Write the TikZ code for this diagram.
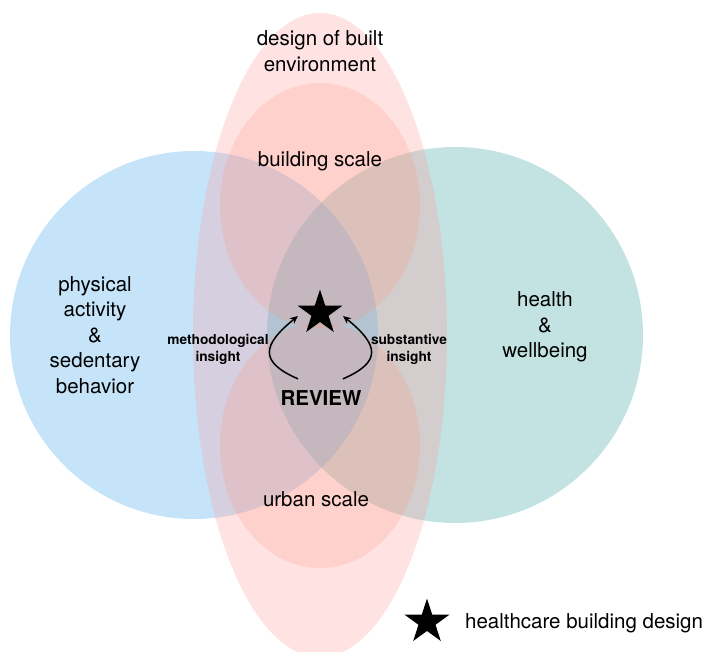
\documentclass[tikz,border=0pt]{standalone}
\usepackage{fontspec}
\setmainfont{TeX Gyre Heros}
\usepackage{tikz}
\usetikzlibrary{shapes.geometric}
\usetikzlibrary{arrows.meta}
\definecolor{activityblue}{RGB}{197,228,250}
\definecolor{healthteal}{RGB}{195,227,226}
\definecolor{lensblue}{RGB}{152,212,231}
\definecolor{builtpink}{RGB}{255,154,154}
\definecolor{scalepink}{RGB}{255,145,123}
\tikzstyle{venntext}=[font=\fontsize{20.5}{25.5}\selectfont, align=center, inner sep=2pt]
\tikzstyle{insighttext}=[font=\fontsize{13.7}{16.5}\selectfont\bfseries, align=center, inner sep=2pt]
\tikzstyle{reviewtext}=[font=\fontsize{20.5}{25.5}\selectfont\bfseries, inner sep=2pt]
\tikzstyle{bigstar}=[star, star points=5, star point ratio=2.618, minimum size=47pt, inner sep=0pt, fill=black]
\tikzstyle{insight}=[draw, line width=1.5pt, -{Stealth[length=8pt,width=7pt]}]
\tikzstyle{builtfill}=[fill=builtpink, fill opacity=0.28]
\tikzstyle{scalefill}=[fill=scalepink, fill opacity=0.22]

\begin{document}
\begin{tikzpicture}[x=1pt, y=-1pt]
   \useasboundingbox (0,0) rectangle (721,652);

   % the two circles and their lens
   \fill[activityblue] (194,335) circle (184pt);
   \fill[healthteal] (455,335) circle (188pt);
   \begin{scope}
      \clip (194,335) circle (184pt);
      \fill[lensblue] (455,335) circle (188pt);
   \end{scope}

   % built environment and its two scales
   \path[builtfill] (320,335) ellipse (127pt and 322pt);
   \foreach \cy in {205.5, 445.5}
      \path[scalefill] (320,\cy) ellipse (100pt and 122.5pt);

   \node[venntext] (built) at (320,51) {design of built\\environment};
   \node[venntext, anchor=base] (building) at (320,167) {building scale};
   \node[venntext, anchor=base] (urban) at (316,507) {urban scale};
   \node[venntext] (activity) at (95,335) {physical\\activity\\\&\\sedentary\\behavior};
   \node[venntext] (health) at (545,327) {health\\\&\\wellbeing};

   \node[insighttext] (method) at (218,349.5) {methodological\\insight};
   \node[insighttext] (subst) at (409,349.5) {substantive\\insight};
   \node[reviewtext, anchor=base] (review) at (321,406) {REVIEW};
   \node[bigstar] (star) at (320,313) {};

   \draw[insight] ([xshift=-23pt,yshift=10pt]review.north) .. controls (259,362) and (262,345) .. ([xshift=-22pt,yshift=-3pt]star.center);
   \draw[insight] ([xshift=22pt,yshift=10pt]review.north) .. controls (382,362) and (379,345) .. ([xshift=23pt,yshift=-3pt]star.center);

   % key
   \node[bigstar] (keystar) at (427,622) {};
   \node[venntext, anchor=base west] (key) at (463,628) {healthcare building design};
\end{tikzpicture}
\end{document}
